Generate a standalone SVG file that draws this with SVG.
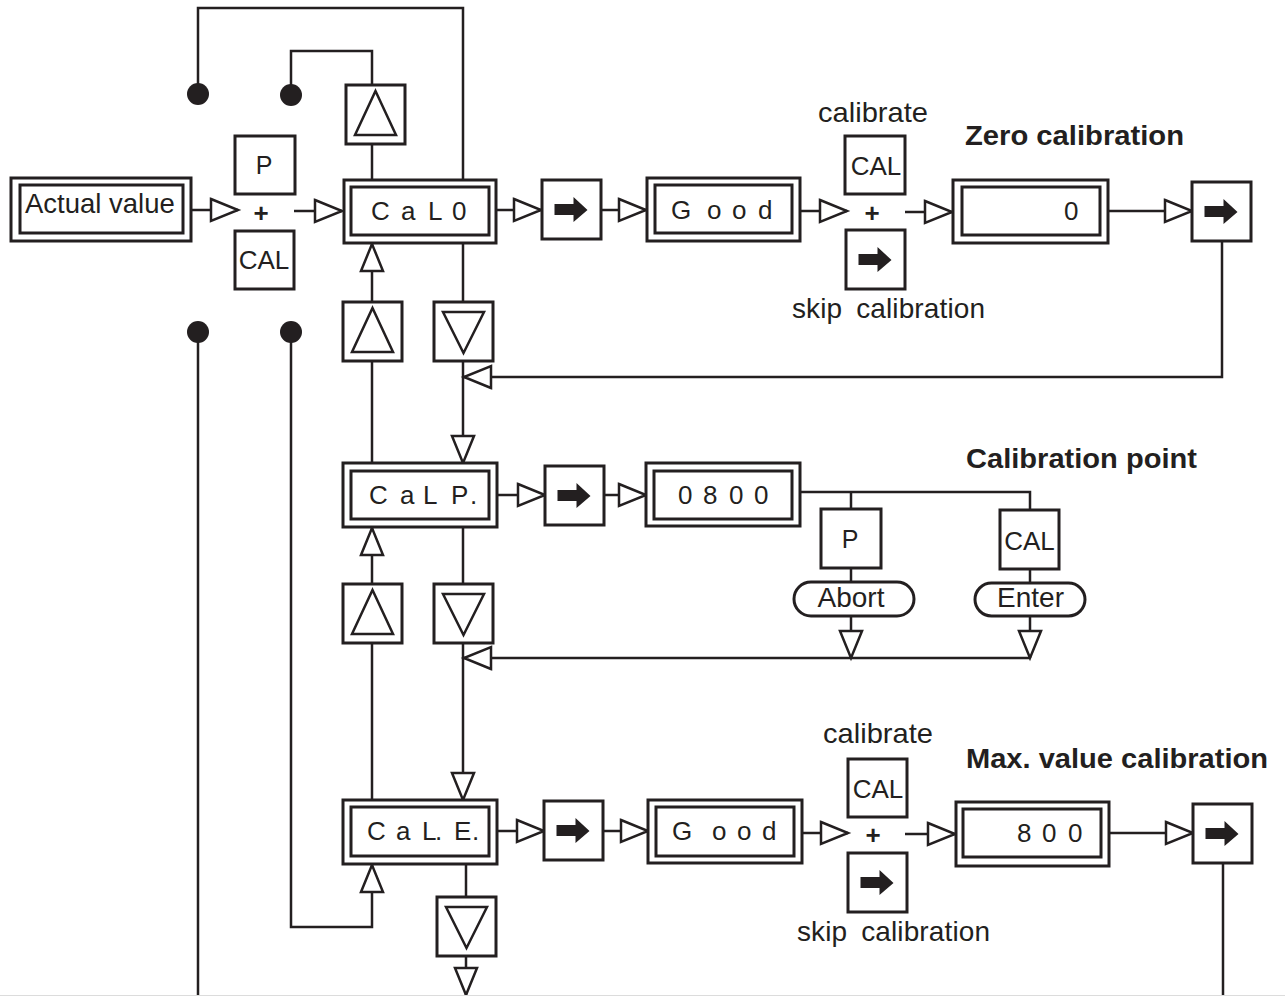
<svg xmlns="http://www.w3.org/2000/svg" width="1285" height="996" viewBox="0 0 1285 996">
<style>
.ln{fill:none;stroke:#231f20;stroke-width:2.5}
.la{fill:none;stroke:#231f20;stroke-width:2.5;marker-end:url(#ah)}
.bx{fill:#fff;stroke:#231f20;stroke-width:3}
.tri{fill:#fff;stroke:#231f20;stroke-width:2.5;stroke-linejoin:miter}
.t{font-family:"Liberation Sans",Arial,Helvetica,sans-serif;fill:#231f20;font-size:26px}
.lc{font-size:28px}
.b{font-weight:bold;font-size:28px}
.dot{fill:#231f20}
</style>
<defs>
<marker id="ah" markerUnits="userSpaceOnUse" markerWidth="34" markerHeight="30" viewBox="-3 -4 34 30" refX="27" refY="11" orient="auto">
<path d="M0,0 L27,11 L0,22 Z" fill="#fff" stroke="#231f20" stroke-width="2.5"/>
</marker>
<path id="fa" d="M-17,-5 H2 V-12 L16,1 L2,13 V6 H-17 Z" fill="#231f20"/>
<g id="up"><rect class="bx" x="0" y="0" width="59" height="59"/><path class="tri" d="M29.5,6 L50,50 H9 Z"/></g>
<g id="dn"><rect class="bx" x="0" y="0" width="59" height="59"/><path class="tri" d="M9,10 H50 L29.5,51 Z"/></g>
<g id="go"><rect class="bx" x="0" y="0" width="59" height="59"/><use href="#fa" x="29.5" y="29"/></g>
</defs>

<g id="connectors">
<path class="ln" d="M198,94 V8 H463 V180"/>
<path class="ln" d="M291,95 V51 H372 V86"/>
<path class="ln" d="M372,144 V180"/>
<path class="la" d="M191,210 H238"/>
<path class="la" d="M294,211 H342"/>
<path class="la" d="M496,210 H541"/>
<path class="la" d="M601,210 H646"/>
<path class="la" d="M800,211 H847"/>
<path class="la" d="M905,212 H952"/>
<path class="la" d="M1108,211 H1192"/>
<path class="la" d="M1222,241 V377 H464"/>
<path class="la" d="M372,302 V244"/>
<path class="ln" d="M463,243 V302"/>
<path class="la" d="M463,361 V463"/>
<path class="ln" d="M372,361 V463"/>
<path class="la" d="M497,495 H545"/>
<path class="la" d="M604,495 H646"/>
<path class="ln" d="M800,492 H1030 V510"/>
<path class="ln" d="M851,492 V509"/>
<path class="ln" d="M851,568 V582"/>
<path class="la" d="M851,616 V658"/>
<path class="ln" d="M1030,569 V583"/>
<path class="la" d="M1030,616 V658"/>
<path class="la" d="M1030,658 H464"/>
<path class="la" d="M372,584 V528"/>
<path class="ln" d="M463,527 V584"/>
<path class="la" d="M463,643 V800"/>
<path class="ln" d="M372,643 V800"/>
<path class="ln" d="M198,333 V996"/>
<path class="ln" d="M1223,863 V996"/>
<path class="la" d="M291,333 V927 H372 V865"/>
<path class="la" d="M497,831 H544"/>
<path class="la" d="M603,831 H648"/>
<path class="la" d="M802,833 H848"/>
<path class="la" d="M905,834 H955"/>
<path class="la" d="M1109,833 H1193"/>
<path class="ln" d="M466,864 V897"/>
<path class="la" d="M466,956 V995"/>
<circle class="dot" cx="198" cy="94" r="11"/>
<circle class="dot" cx="291" cy="95" r="11"/>
<circle class="dot" cx="198" cy="332" r="11"/>
<circle class="dot" cx="291" cy="332" r="11"/>
</g>
<line x1="0" y1="995.5" x2="1285" y2="995.5" stroke="#dcdcdc" stroke-width="1"/>

<g id="actual">
<rect class="bx" x="11" y="178" width="180" height="63"/>
<rect class="bx" x="20" y="185" width="163" height="48"/>
<text class="t" x="25" y="213" style="font-size:27.5px">Actual value</text>
</g>
<g id="keys1">
<rect class="bx" x="235" y="136" width="60" height="58"/>
<text class="t" x="264" y="174" text-anchor="middle" style="font-size:25px">P</text>
<text class="t" x="261" y="222" text-anchor="middle" style="font-weight:bold">+</text>
<rect class="bx" x="235" y="231" width="59" height="58"/>
<text class="t" x="264" y="269" text-anchor="middle">CAL</text>
</g>
<g id="up0"><use href="#up" x="346" y="85"/></g>
<g id="cal0">
<rect class="bx" x="344" y="180" width="152" height="63"/>
<rect class="bx" x="351" y="187" width="138" height="48"/>
<text class="t" x="371 401 428 452" y="220">CaL0</text>
</g>
<g id="next1"><use href="#go" x="542" y="180"/></g>
<g id="good1">
<rect class="bx" x="647" y="178" width="153" height="63"/>
<rect class="bx" x="655" y="185" width="137" height="48"/>
<text class="t" x="671 707 732 758" y="219">Good</text>
</g>
<g id="choice1">
<text class="t lc" x="818" y="122" textLength="110" lengthAdjust="spacingAndGlyphs">calibrate</text>
<rect class="bx" x="845" y="136" width="60" height="58"/>
<text class="t" x="876" y="175" text-anchor="middle">CAL</text>
<text class="t" x="872" y="222" text-anchor="middle" style="font-weight:bold">+</text>
<use href="#go" x="846" y="230"/>
<text class="t lc" x="792" y="318" textLength="193" lengthAdjust="spacing" word-spacing="6">skip calibration</text>
</g>
<text class="t b" x="965" y="145" textLength="219" lengthAdjust="spacingAndGlyphs">Zero calibration</text>
<g id="zero">
<rect class="bx" x="953" y="180" width="155" height="63"/>
<rect class="bx" x="962" y="187" width="138" height="48"/>
<text class="t" x="1064" y="220">0</text>
</g>
<g id="next2"><use href="#go" x="1192" y="182"/></g>

<g id="up1"><use href="#up" x="343" y="302"/></g>
<g id="dn1"><use href="#dn" x="434" y="302"/></g>

<g id="calp">
<rect class="bx" x="343" y="463" width="154" height="64"/>
<rect class="bx" x="351" y="471" width="138" height="48"/>
<text class="t" x="369 400 423 451 470" y="504">CaLP.</text>
</g>
<g id="next3"><use href="#go" x="545" y="466"/></g>
<g id="v0800">
<rect class="bx" x="646" y="463" width="154" height="63"/>
<rect class="bx" x="654" y="471" width="138" height="48"/>
<text class="t" x="678 703 729 754" y="504">0800</text>
</g>
<text class="t b" x="966" y="468" textLength="231" lengthAdjust="spacingAndGlyphs">Calibration point</text>
<g id="abort">
<rect class="bx" x="821" y="509" width="60" height="59"/>
<text class="t" x="850" y="548" text-anchor="middle" style="font-size:25px">P</text>
<rect class="bx" x="794" y="582" width="120" height="34" rx="17"/>
<text class="t" x="851" y="607" text-anchor="middle" style="font-size:28px">Abort</text>
</g>
<g id="enter">
<rect class="bx" x="1000" y="510" width="59" height="59"/>
<text class="t" x="1029.5" y="550" text-anchor="middle">CAL</text>
<rect class="bx" x="975" y="583" width="110" height="33" rx="16.5"/>
<text class="t" x="1030.5" y="607" text-anchor="middle" style="font-size:28px">Enter</text>
</g>
<g id="up2"><use href="#up" x="343" y="584"/></g>
<g id="dn2"><use href="#dn" x="434" y="584"/></g>

<g id="cale">
<rect class="bx" x="343" y="800" width="154" height="64"/>
<rect class="bx" x="351" y="807" width="138" height="49"/>
<text class="t" x="367 396 422 435 454 472" y="840">CaL.E.</text>
</g>
<g id="next4"><use href="#go" x="544" y="801"/></g>
<g id="good2">
<rect class="bx" x="648" y="800" width="154" height="63"/>
<rect class="bx" x="656" y="807" width="138" height="49"/>
<text class="t" x="672 712 737 762" y="840">Good</text>
</g>
<g id="choice2">
<text class="t lc" x="823" y="743" textLength="110" lengthAdjust="spacingAndGlyphs">calibrate</text>
<rect class="bx" x="848" y="759" width="59" height="58"/>
<text class="t" x="878" y="798" text-anchor="middle">CAL</text>
<text class="t" x="873" y="844" text-anchor="middle" style="font-weight:bold">+</text>
<use href="#go" x="848" y="853"/>
<text class="t lc" x="797" y="941" textLength="193" lengthAdjust="spacing" word-spacing="6">skip calibration</text>
</g>
<text class="t b" x="966" y="768" textLength="302" lengthAdjust="spacingAndGlyphs">Max. value calibration</text>
<g id="v800">
<rect class="bx" x="956" y="802" width="153" height="64"/>
<rect class="bx" x="963" y="809" width="138" height="48"/>
<text class="t" x="1017 1042 1068" y="842">800</text>
</g>
<g id="next5"><use href="#go" x="1193" y="804"/></g>
<g id="dn3"><use href="#dn" x="437" y="897"/></g>
</svg>
